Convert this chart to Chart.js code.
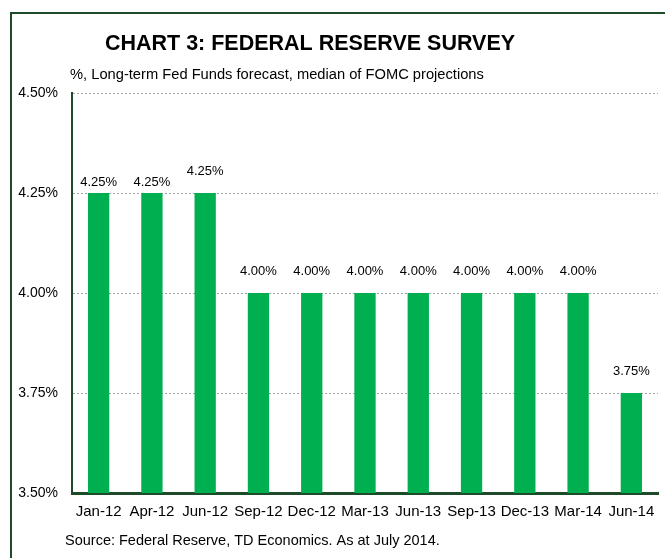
<!DOCTYPE html>
<html>
<head>
<meta charset="utf-8">
<script src="https://cdn.jsdelivr.net/npm/chart.js@4"></script>
<style>
  html, body { margin: 0; padding: 0; background: #fff; }
  #wrap { position: relative; width: 665px; height: 558px; }
</style>
</head>
<body>
<div id="wrap"><canvas id="fedChart" width="665" height="558"></canvas></div>
<script>
const ctx = document.getElementById('fedChart');

const surveyDates = ["Jan-12", "Apr-12", "Jun-12", "Sep-12", "Dec-12", "Mar-13", "Jun-13", "Sep-13", "Dec-13", "Mar-14", "Jun-14"]
const fedFundsMedian = [4.25, 4.25, 4.25, 4.00, 4.00, 4.00, 4.00, 4.00, 4.00, 4.00, 3.75]
const yTicks = [3.50, 3.75, 4.00, 4.25, 4.50]

const titleText = "CHART 3: FEDERAL RESERVE SURVEY"
const subtitleText = "%, Long-term Fed Funds forecast, median of FOMC projections"
const sourceText = "Source: Federal Reserve, TD Economics. As at July 2014."

const darkGreen = '#1e4a2a'
const barGreen = '#00b050'
const fontFam = '"Liberation Sans", Arial, sans-serif'

// gap between bar top and its label (first two labels sit closer in the original)
const labelGap = i => (i < 2 ? 4 : 15)

const decorations = {
    id: 'decorations',
    beforeDraw(chart) {
        const c = chart.ctx
        c.save()
        c.fillStyle = '#fff'
        c.fillRect(0, 0, chart.width, chart.height)
        // frame: left and top edges
        c.strokeStyle = darkGreen
        c.lineWidth = 2
        c.beginPath()
        c.moveTo(11, chart.height)
        c.lineTo(11, 13)
        c.lineTo(chart.width, 13)
        c.stroke()
        c.restore()
    },
    afterDraw(chart) {
        const c = chart.ctx
        c.save()
        c.fillStyle = '#000'
        c.textBaseline = 'middle'
        c.textAlign = 'center'
        c.font = 'bold 21.5px ' + fontFam
        c.fillText(titleText, 310, 44)
        c.textAlign = 'left'
        c.font = '14.7px ' + fontFam
        c.fillText(subtitleText, 70, 75)
        c.font = '14.5px ' + fontFam
        c.fillText(sourceText, 65, 541)

        // value labels
        c.font = '13px ' + fontFam
        c.textAlign = 'center'
        c.textBaseline = 'bottom'
        const meta = chart.getDatasetMeta(0)
        meta.data.forEach((bar, i) => {
            const v = chart.data.datasets[0].data[i]
            c.fillText(v.toFixed(2) + '%', bar.x, bar.y - labelGap(i))
        })
        c.restore()
    }
}

new Chart(ctx, {
    type: 'bar',
    data: {
        labels: surveyDates,
        datasets: [{
            label: 'Fed Funds',
            data: fedFundsMedian,
            backgroundColor: barGreen,
            barPercentage: 0.4,
            categoryPercentage: 1.0
        }]
    },
    options: {
        responsive: false,
        animation: false,
        devicePixelRatio: 1,
        layout: { padding: { left: 12, top: 93, right: 7, bottom: 0 } },
        plugins: {
            legend: { display: false },
            tooltip: { enabled: false }
        },
        scales: {
            x: {
                grid: { display: false },
                border: { color: darkGreen, width: 3 },
                ticks: { color: '#000', font: { size: 15, family: fontFam }, padding: 2, maxRotation: 0 },
                afterFit: s => { s.height = 65 }
            },
            y: {
                min: 3.5,
                max: 4.5,
                afterBuildTicks: s => { s.ticks = yTicks.map(v => ({ value: v })) },
                grid: { color: '#a0a0a0', lineWidth: 1, drawTicks: false },
                border: { color: darkGreen, width: 2, dash: [2, 2] },
                ticks: {
                    color: '#000',
                    font: { size: 14, family: fontFam },
                    padding: 14,
                    callback: v => v.toFixed(2) + '%'
                },
                afterFit: s => { s.width = 60 }
            }
        }
    },
    plugins: [decorations]
});
</script>
</body>
</html>
